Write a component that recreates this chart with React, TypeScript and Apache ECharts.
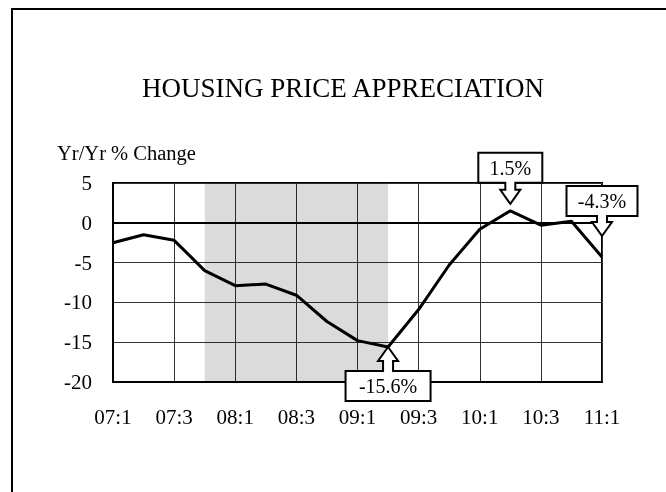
import React, { useEffect, useRef } from "react";
import * as echarts from "echarts";

const categories = [
  "07:1", "07:2", "07:3", "07:4",
  "08:1", "08:2", "08:3", "08:4",
  "09:1", "09:2", "09:3", "09:4",
  "10:1", "10:2", "10:3", "10:4",
  "11:1",
];
const values = [
  -2.5, -1.5, -2.2, -6.0,
  -7.9, -7.7, -9.1, -12.4,
  -14.8, -15.6, -10.9, -5.3,
  -0.8, 1.5, -0.3, 0.2,
  -4.3,
];
const recessionStart = "07:4";
const recessionEnd = "09:2";
const yTicks = { min: -20, max: 5, interval: 5 };
const titleText = "HOUSING PRICE APPRECIATION";
const yAxisName = "Yr/Yr % Change";

type Callout = { index: number; text: string; side: "above" | "below"; boxW: number; tipOffset: number; arrowLen: number };
const callouts: Callout[] = [
  { index: 9, text: "-15.6%", side: "below", boxW: 85, tipOffset: 0, arrowLen: 24 },
  { index: 13, text: "1.5%", side: "above", boxW: 64, tipOffset: -7, arrowLen: 21 },
  { index: 16, text: "-4.3%", side: "above", boxW: 71, tipOffset: -21, arrowLen: 20 },
];

const FONT = "'Liberation Serif', 'Times New Roman', serif";

export default function App() {
  const ref = useRef<HTMLDivElement>(null);
  useEffect(() => {
    document.body.style.margin = "0";
    document.body.style.overflow = "hidden";
    if (!ref.current) return;
    const chart = echarts.init(ref.current, null, { renderer: "svg" });
    const option: any = {
      animation: false,
      grid: {
        left: 113, top: 183, right: 64, bottom: 110,
        show: true, borderColor: "#000", borderWidth: 2, backgroundColor: "transparent",
      },
      xAxis: {
        type: "category",
        data: categories,
        boundaryGap: false,
        axisLine: { show: true, onZero: false, lineStyle: { color: "#000", width: 2 } },
        axisTick: { show: false },
        axisLabel: { interval: 1, fontFamily: FONT, fontSize: 21, color: "#000", margin: 24 },
        splitLine: { show: true, interval: 1, lineStyle: { color: "#333", width: 1 } },
      },
      yAxis: {
        type: "value",
        min: yTicks.min, max: yTicks.max, interval: yTicks.interval,
        axisLine: { show: true, lineStyle: { color: "#000", width: 2 } },
        axisTick: { show: false },
        axisLabel: { fontFamily: FONT, fontSize: 21, color: "#000", margin: 21 },
        splitLine: { show: true, lineStyle: { color: "#333", width: 1 } },
      },
      series: [
        {
          type: "line",
          data: values,
          symbol: "none",
          lineStyle: { color: "#000", width: 3 },
          markArea: {
            silent: true,
            itemStyle: { color: "rgba(0,0,0,0.14)" },
            data: [[{ xAxis: recessionStart }, { xAxis: recessionEnd }]],
          },
          markLine: {
            silent: true,
            symbol: "none",
            label: { show: false },
            lineStyle: { color: "#000", width: 2, type: "solid" },
            data: [{ yAxis: 0 }],
          },
        },
      ],
    };
    chart.setOption(option);

    const boxH = 30, hw = 10, sw = 5, headH = 14;
    const graphics: any[] = [
      { type: "polyline", shape: { points: [[12, 492], [12, 9], [666, 9]] }, style: { fill: "none", stroke: "#000", lineWidth: 2 }, silent: true },
      { type: "text", x: 343, y: 88, style: { text: titleText, font: `27px ${FONT}`, fill: "#000", textAlign: "center", textVerticalAlign: "middle" } },
      { type: "text", x: 57, y: 153, style: { text: yAxisName, font: `20.5px ${FONT}`, fill: "#000", textAlign: "left", textVerticalAlign: "middle" } },
    ];
    callouts.forEach((c) => {
      const p = chart.convertToPixel({ seriesIndex: 0 }, [c.index, values[c.index]]) as number[];
      const px = p[0], py = p[1];
      const s = c.side === "below" ? 1 : -1;
      const tipY = py + c.tipOffset;
      const headY = tipY + s * headH;
      const boxNear = tipY + s * c.arrowLen;
      const boxFar = boxNear + s * boxH;
      const bw = c.boxW / 2;
      const pts = [
        [px, tipY], [px + hw, headY], [px + sw, headY], [px + sw, boxNear],
        [px + bw, boxNear], [px + bw, boxFar], [px - bw, boxFar], [px - bw, boxNear],
        [px - sw, boxNear], [px - sw, headY], [px - hw, headY],
      ];
      graphics.push({ type: "polygon", shape: { points: pts }, style: { fill: "#fff", stroke: "#000", lineWidth: 2 }, z: 10 });
      graphics.push({
        type: "text", x: px, y: (boxNear + boxFar) / 2, z: 11,
        style: { text: c.text, font: `20px ${FONT}`, fill: "#000", textAlign: "center", textVerticalAlign: "middle" },
      });
    });
    chart.setOption({ graphic: graphics });
    return () => chart.dispose();
  }, []);
  return (
    <div style={{ position: "fixed", left: 0, top: 0, width: 666, height: 492, overflow: "hidden" }}>
      <div ref={ref} style={{ width: 666, height: 492 }} />
    </div>
  );
}
